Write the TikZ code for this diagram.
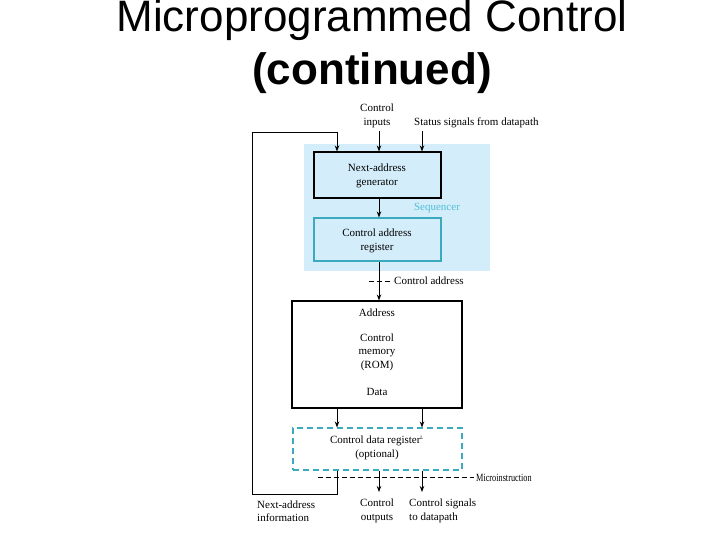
\documentclass[tikz,border=0pt]{standalone}
\usepackage{fontspec}
\setmainfont{Liberation Serif}
\newfontfamily\titlefont{Liberation Sans}
\newfontfamily\condfont[FakeStretch=0.75]{Liberation Serif}
\usetikzlibrary{arrows.meta}
\definecolor{seqblue}{RGB}{212,237,250}
\definecolor{tealb}{RGB}{60,170,190}
\definecolor{seqtext}{RGB}{80,190,215}
\begin{document}
\begin{tikzpicture}[x=1pt,y=-1pt,
  txt/.style={font=\fontsize{11}{13.5}\selectfont, inner sep=0pt, align=center},
  blk/.style={draw=black, line width=1.1pt, inner sep=0pt},
  tl/.style={draw=tealb, line width=1.1pt, inner sep=0pt},
  arr/.style={-{Stealth[length=6pt,width=4.5pt]}, line width=0.8pt},
  ln/.style={line width=0.8pt},
  dsh/.style={dashed, dash pattern=on 5pt off 3pt, line width=0.8pt}]
\useasboundingbox (0,0) rectangle (720,540);
% title
\node[font=\titlefont\fontsize{44}{50}\selectfont, anchor=base, inner sep=0pt] (t1) at (372,32) {Microprogrammed Control};
\node[font=\titlefont\bfseries\fontsize{44}{50}\selectfont, anchor=base, inner sep=0pt] (t2) at (372,85) {(continued)};
% sequencer background
\fill[seqblue] (304,144) rectangle (490,271);
\node[txt, text=seqtext] (seq) at (437,208) {Sequencer};
% boxes
\node[blk, minimum width=127pt, minimum height=46pt] (gen) at (377.5,175) {};
\node[txt] (gent) at (377,176) {Next-address\\generator};
\node[tl, minimum width=127pt, minimum height=43pt] (car) at (377.5,239.5) {};
\node[txt] (cart) at (377,241) {Control address\\register};
\node[blk, minimum width=170pt, minimum height=107pt] (mem) at (377,354.5) {};
\node[txt] (addr) at (377,313) {Address};
\node[txt] (memt) at (377,352) {Control\\memory\\(ROM)};
\node[txt] (data) at (377,392) {Data};
\node[tl, dashed, dash pattern=on 6pt off 4pt, minimum width=169pt, minimum height=42pt] (cdr) at (377.5,449) {};
\node[txt] (cdrt) at (377,448) {Control data register\textsuperscript{\tiny L}\\(optional)};
% inputs
\node[txt] (cin) at (377,116) {Control\\inputs};
\node[txt, anchor=west] (stat) at (414,123) {Status signals from datapath};
\coordinate (ci0) at (379,131);
\coordinate (si0) at (422,131);
\draw[arr] (ci0) -- (ci0 |- gen.north);
\draw[arr] (si0) -- (si0 |- gen.north);
% gen -> car
\draw[arr] (gen.south -| 379,0) -- (car.north -| 379,0);
% car -> mem
\draw[arr] (car.south -| 379,0) -- (mem.north -| 379,0);
\coordinate (ca0) at (369,281);
\coordinate (ca1) at (393,281);
\draw[dsh] (ca0) -- (ca1);
\node[txt, anchor=west] (cat) at (394,281) {Control address};
% mem -> cdr
\draw[arr] (mem.south -| 337,0) -- (cdr.north -| 337,0);
\draw[arr] (mem.south -| 422,0) -- (cdr.north -| 422,0);
% outputs
\coordinate (o1) at (379,492);
\coordinate (o2) at (422,492);
\draw[arr] (cdr.south -| 379,0) -- (o1);
\draw[arr] (cdr.south -| 422,0) -- (o2);
\coordinate (mi0) at (318,477);
\coordinate (mi1) at (474,477);
\draw[dsh] (mi0) -- (mi1);
\node[txt, font=\condfont\fontsize{11}{13.5}\selectfont, anchor=west] (mit) at (476,478) {Microinstruction};
% loop
\coordinate (l1) at (337,494);
\coordinate (l2) at (252,494);
\coordinate (l3) at (252,132);
\coordinate (l4) at (337,132);
\draw[ln] (cdr.south -| 337,0) -- (l1) -- (l2) -- (l3) -- (l4);
\draw[arr] (l4) -- (l4 |- gen.north);
% bottom labels
\node[txt, align=left, anchor=west] (nai) at (257,511) {Next-address\\information};
\node[txt] (cout) at (377,511) {Control\\outputs};
\node[txt, align=left, anchor=west] (csd) at (409,511) {Control signals\\to datapath};
\end{tikzpicture}
\end{document}
